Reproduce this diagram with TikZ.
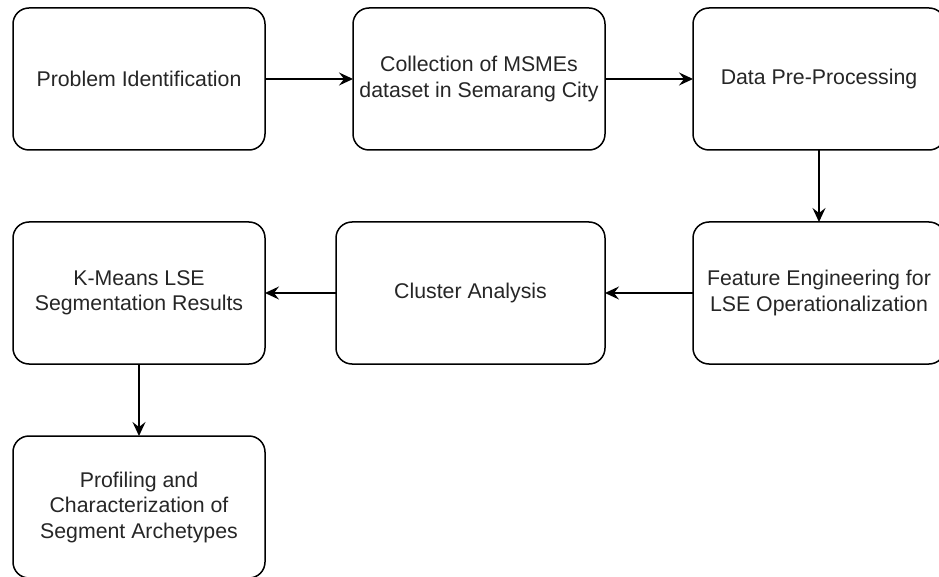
\documentclass[tikz,border=0pt]{standalone}
\usepackage{fontspec}
\setmainfont{Liberation Sans}
\usepackage{tikz}
\usetikzlibrary{arrows.meta,positioning}
\definecolor{textGray}{gray}{0.15}

\begin{document}
\begin{tikzpicture}[-{Stealth[length=14pt,width=13pt,inset=5pt]}, line width=1.5pt, node distance=88pt]
        \tikzset{
           procBox/.style={
                        rectangle,
                        rounded corners=16pt,
                        draw=black,
                        fill=white,
                        text=textGray,
                        align=center,
                        outer sep=0pt,
                        minimum width=252pt,
                        minimum height=142pt,
                        font=\fontsize{21.3pt}{25.5pt}\selectfont
                       },
                 };
        \useasboundingbox (0pt,0pt) rectangle (939pt,-577pt);
        \clip (0pt,0pt) rectangle (939pt,-577pt);
    %--------------------
        \node[procBox]  (probIdent)   at (139pt,-79pt)            {Problem Identification};
        \node[procBox]  (dataColl)    [right=of probIdent]        {Collection of MSMEs\\dataset in Semarang City};
        \node[procBox]  (preProc)     [right=of dataColl]         {Data Pre-Processing};

        \node[procBox]  (featEng)     [below=72pt of preProc]     {Feature Engineering for\\LSE Operationalization};
        \node[procBox, minimum width=269pt]
                        (clustAnal)   [left=of featEng]           {Cluster Analysis};
        \node[procBox]  (kmeansRes)   [below=72pt of probIdent]   {K-Means LSE\\Segmentation Results};

        \node[procBox]  (segProfile)  [below=72pt of kmeansRes]   {Profiling and\\Characterization of\\Segment Archetypes};
    %--------------------
        \path (probIdent)  edge (dataColl)
              (dataColl)   edge (preProc)
              (preProc)    edge (featEng)
              (featEng)    edge (clustAnal)
              (clustAnal)  edge (kmeansRes)
              (kmeansRes)  edge (segProfile);
    \end{tikzpicture}
\end{document}
